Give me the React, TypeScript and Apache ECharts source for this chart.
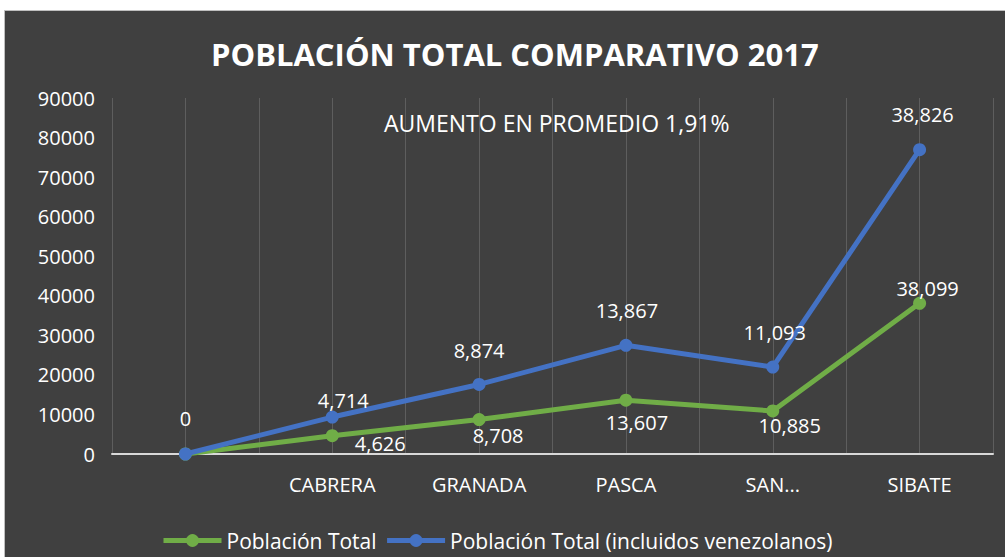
import React, { useEffect, useRef } from "react";
import * as echarts from "echarts";

const categories = ["", "CABRERA", "GRANADA", "PASCA", "SAN...", "SIBATE"];
const poblacionTotal = [0, 4626, 8708, 13607, 10885, 38099];
const poblacionVenezolanos = [0, 4714, 8874, 13867, 11093, 38826];
const yTicks = { min: 0, max: 90000, interval: 10000 };

// label placement (style only) relative to each point
const greenLabelOffsets = [[0, 0], [48, 8], [19, 16], [11, 22], [17, 15], [8, -15]];
const greenLabelShow = [false, true, true, true, true, true];
const blueLabelOffsets = [[0, -36], [11, -17], [0, -34], [1, -35], [2, -35], [3, -35]];

const FONT = "'Open Sans', sans-serif";

export default function App() {
  const ref = useRef<HTMLDivElement>(null);
  useEffect(() => {
    const chart = echarts.init(ref.current!, null, { renderer: "svg" });
    const labelBase = { color: "#ffffff", fontSize: 20, fontFamily: FONT, position: "inside" };
    const fmt = (p: any) => Number(p.value).toLocaleString("en-US");
    chart.setOption({
      animation: false,
      backgroundColor: "#ffffff",
      title: {
        text: "POBLACIÓN TOTAL COMPARATIVO 2017",
        left: 206,
        top: 33,
        textStyle: { color: "#ffffff", fontSize: 31, fontWeight: "bold", fontFamily: FONT },
      },
      graphic: [
        {
          type: "rect",
          z: -10,
          silent: true,
          shape: { x: 4.5, y: 10.5, width: 1010, height: 560 },
          style: { fill: "#404040", stroke: "#bfbfbf", lineWidth: 1 },
        },
        {
          type: "text",
          z: 10,
          left: 384,
          top: 111,
          style: { text: "AUMENTO EN PROMEDIO 1,91%", fill: "#ffffff", fontSize: 23, fontFamily: FONT },
        },
      ],
      legend: {
        left: 161,
        top: 530,
        padding: 0,
        itemWidth: 58,
        itemHeight: 16,
        itemGap: 8,
        lineStyle: { width: 5 },
        textStyle: { color: "#ffffff", fontSize: 21, fontFamily: FONT },
        data: ["Población Total", "Población Total (incluidos venezolanos)"],
      },
      grid: { left: 112, right: 12, top: 98, bottom: 103 },
      xAxis: [
        {
          type: "category",
          data: categories,
          boundaryGap: true,
          axisLine: { lineStyle: { color: "#d9d9d9", width: 2 } },
          axisTick: { show: false },
          axisLabel: { color: "#ffffff", fontSize: 20, fontFamily: FONT, margin: 20 },
          splitLine: { show: false },
          z: 3,
        },
        {
          type: "value",
          min: 0,
          max: 12,
          interval: 1,
          position: "bottom",
          axisLine: { show: false },
          axisTick: { show: false },
          axisLabel: { show: false },
          splitLine: { show: true, lineStyle: { color: "#5e5e5e", width: 1 } },
        },
      ],
      yAxis: {
        type: "value",
        min: yTicks.min,
        max: yTicks.max,
        interval: yTicks.interval,
        axisLine: { show: false },
        axisTick: { show: false },
        splitLine: { show: false },
        axisLabel: {
          color: "#ffffff",
          fontSize: 20,
          fontFamily: FONT,
          margin: 17,
          formatter: (v: number) => String(v),
        },
      },
      series: [
        {
          name: "Población Total",
          type: "line",
          stack: "total",
          xAxisIndex: 0,
          data: poblacionTotal.map((v, i) => ({
            value: v,
            label: { ...labelBase, show: greenLabelShow[i], offset: greenLabelOffsets[i] },
          })),
          label: { show: true, formatter: fmt },
          color: "#70ad47",
          lineStyle: { width: 5, color: "#70ad47" },
          itemStyle: { color: "#70ad47" },
          symbol: "circle",
          symbolSize: 13,
          z: 3,
        },
        {
          name: "Población Total (incluidos venezolanos)",
          type: "line",
          stack: "total",
          xAxisIndex: 0,
          data: poblacionVenezolanos.map((v, i) => ({
            value: v,
            label: { ...labelBase, show: true, offset: blueLabelOffsets[i] },
          })),
          label: { show: true, formatter: fmt },
          color: "#4472c4",
          lineStyle: { width: 5, color: "#4472c4" },
          itemStyle: { color: "#4472c4" },
          symbol: "circle",
          symbolSize: 13,
          z: 4,
        },
      ],
    });
    return () => chart.dispose();
  }, []);
  return (
    <div
      ref={ref}
      style={{ position: "absolute", left: 0, top: 0, width: 1005, height: 557 }}
    />
  );
}
